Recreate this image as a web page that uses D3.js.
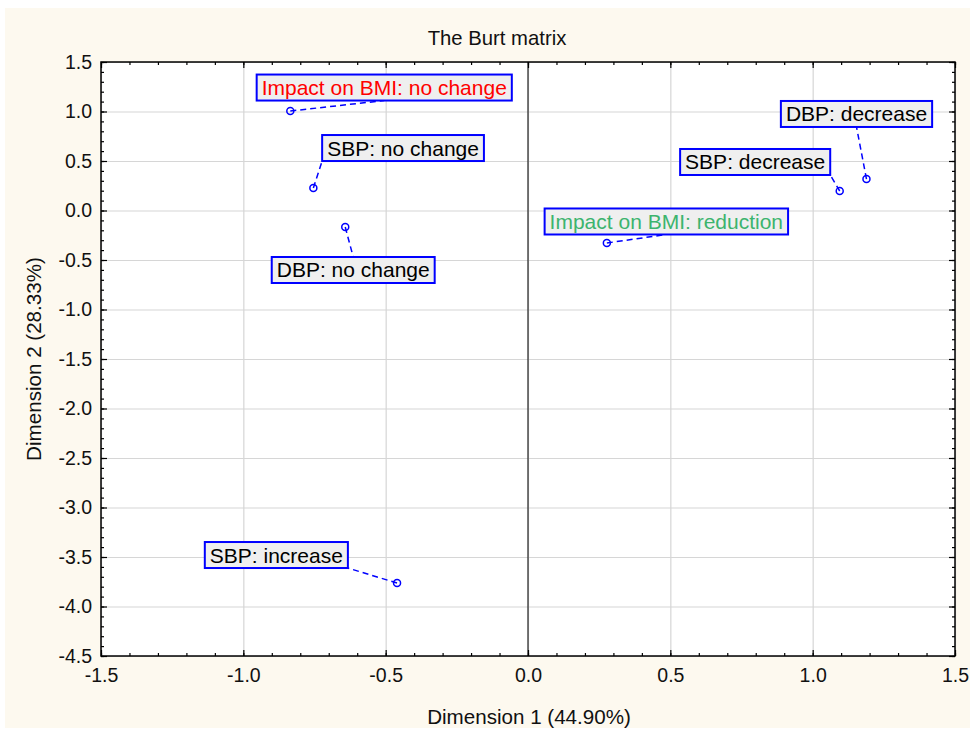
<!DOCTYPE html>
<html>
<head>
<meta charset="utf-8">
<script src="https://cdn.jsdelivr.net/npm/d3@7"></script>
<style>
  body { margin: 0; background: #fff; }
  svg { display: block; font-family: Arial, "Liberation Sans", sans-serif; }
</style>
</head>
<body>
<div id="chart"></div>
<script>
// category points of the Burt matrix (dimension 1 / dimension 2 coordinates)
const categories = [
  'Impact on BMI: no change',
  'SBP: no change',
  'DBP: no change',
  'Impact on BMI: reduction',
  'SBP: decrease',
  'DBP: decrease',
  'SBP: increase',
];
const dim1 = [-0.835, -0.754, -0.642, 0.277, 1.095, 1.189, -0.46];
const dim2 = [1.005, 0.227, -0.167, -0.328, 0.197, 0.318, -3.763];

// where each label box sits (data units) and which side the leader line meets
const labelX = [-0.505, -0.439, -0.614, 0.486, 0.798, 1.154, -0.884];
const labelY = [1.242, 0.631, -0.601, -0.111, 0.49, 0.975, -3.48];
const labelAttach = ['bottom', 'bottom-left', 'top', 'bottom', 'bottom-right', 'bottom', 'bottom-right'];

const xTicks = [-1.5, -1.0, -0.5, 0.0, 0.5, 1.0, 1.5];
const yTicks = [1.5, 1.0, 0.5, 0.0, -0.5, -1.0, -1.5, -2.0, -2.5, -3.0, -3.5, -4.0, -4.5];

const title = 'The Burt matrix';
const xTitle = 'Dimension 1 (44.90%)';
const yTitle = 'Dimension 2 (28.33%)';

const width = 970;
const height = 731;
const plot = { left: 101, right: 955, top: 62, bottom: 656 };

const textColor = (name) => {
  if (name === 'Impact on BMI: no change') return '#ff0000';
  if (name === 'Impact on BMI: reduction') return '#3cb46e';
  return '#000';
};

const points = categories.map((name, i) => ({
  name,
  x: dim1[i],
  y: dim2[i],
  lx: labelX[i],
  ly: labelY[i],
  attach: labelAttach[i],
}));

const svg = d3.select('#chart')
  .append('svg')
  .attr('width', width)
  .attr('height', height);

// cream panel
svg.append('rect')
  .attr('x', 5).attr('y', 8)
  .attr('width', width - 5).attr('height', 720)
  .attr('fill', '#fdf9ef');

const xScale = d3.scaleLinear().domain([-1.5, 1.5]).range([plot.left, plot.right]);
const yScale = d3.scaleLinear().domain([-4.5, 1.5]).range([plot.bottom, plot.top]);

svg.append('rect')
  .attr('x', plot.left).attr('y', plot.top)
  .attr('width', plot.right - plot.left).attr('height', plot.bottom - plot.top)
  .attr('fill', '#fff');

// gridlines
const grid = svg.append('g').attr('class', 'grid');
grid.append('g')
  .attr('transform', `translate(0,${plot.bottom})`)
  .call(d3.axisBottom(xScale).tickValues(xTicks).tickFormat('').tickSize(-(plot.bottom - plot.top)));
grid.append('g')
  .attr('transform', `translate(${plot.left},0)`)
  .call(d3.axisLeft(yScale).tickValues(yTicks).tickFormat('').tickSize(-(plot.right - plot.left)));
grid.selectAll('.domain').remove();
grid.selectAll('line').attr('stroke', '#d6d6d6').attr('stroke-width', 1.2);

// zero line for dimension 1
svg.append('line')
  .attr('x1', xScale(0)).attr('x2', xScale(0))
  .attr('y1', plot.top).attr('y2', plot.bottom)
  .attr('stroke', '#222').attr('stroke-width', 1.2);

// inward ticks on all four sides
const xMinor = d3.range(-15, 16).map((d) => d / 10);
const yMinor = d3.range(-45, 16).map((d) => d / 10);
const tickGroup = svg.append('g').attr('class', 'ticks');
function addTicks(axisFn, scale, values, size, transform) {
  tickGroup.append('g')
    .attr('transform', transform)
    .call(axisFn(scale).tickValues(values).tickFormat('').tickSize(-size));
}
addTicks(d3.axisBottom, xScale, xMinor, 3, `translate(0,${plot.bottom})`);
addTicks(d3.axisBottom, xScale, xTicks, 6, `translate(0,${plot.bottom})`);
addTicks(d3.axisTop, xScale, xMinor, 3, `translate(0,${plot.top})`);
addTicks(d3.axisTop, xScale, xTicks, 6, `translate(0,${plot.top})`);
addTicks(d3.axisLeft, yScale, yMinor, 3, `translate(${plot.left},0)`);
addTicks(d3.axisLeft, yScale, yTicks, 6, `translate(${plot.left},0)`);
addTicks(d3.axisRight, yScale, yMinor, 3, `translate(${plot.right},0)`);
addTicks(d3.axisRight, yScale, yTicks, 6, `translate(${plot.right},0)`);
tickGroup.selectAll('.domain').remove();
tickGroup.selectAll('line').attr('stroke', '#000').attr('stroke-width', 1.2);

// frame
svg.append('rect')
  .attr('x', plot.left).attr('y', plot.top)
  .attr('width', plot.right - plot.left).attr('height', plot.bottom - plot.top)
  .attr('fill', 'none')
  .attr('stroke', '#000')
  .attr('stroke-width', 1.5);

// tick labels
const fmt = (d) => d.toFixed(1);
const xAxis = svg.append('g')
  .attr('transform', `translate(0,${plot.bottom})`)
  .call(d3.axisBottom(xScale).tickValues(xTicks).tickFormat(fmt).tickSize(0).tickPadding(12));
const yAxis = svg.append('g')
  .attr('transform', `translate(${plot.left},0)`)
  .call(d3.axisLeft(yScale).tickValues(yTicks).tickFormat(fmt).tickSize(0).tickPadding(9));
[xAxis, yAxis].forEach((g) => {
  g.select('.domain').remove();
  g.selectAll('text')
    .attr('font-family', 'Arial, "Liberation Sans", sans-serif')
    .attr('font-size', 19.5)
    .attr('fill', '#111');
});

// titles
svg.append('text')
  .attr('x', 497).attr('y', 45)
  .attr('text-anchor', 'middle')
  .attr('font-size', 20.3)
  .attr('fill', '#111')
  .text(title);
svg.append('text')
  .attr('x', 529).attr('y', 724)
  .attr('text-anchor', 'middle')
  .attr('font-size', 20.6)
  .attr('fill', '#111')
  .text(xTitle);
svg.append('text')
  .attr('transform', `translate(41,${(plot.top + plot.bottom) / 2}) rotate(-90)`)
  .attr('text-anchor', 'middle')
  .attr('font-size', 20.6)
  .attr('fill', '#111')
  .text(yTitle);

// labels with leader lines
const labelLayer = svg.append('g').attr('class', 'labels');
const pointLayer = svg.append('g').attr('class', 'points');
const pad = 5;
const boxH = 26;

points.forEach((p) => {
  const g = labelLayer.append('g');
  const cx = xScale(p.lx);
  const cy = yScale(p.ly);
  const rect = g.append('rect');
  const txt = g.append('text')
    .attr('x', cx).attr('y', cy + 7.5)
    .attr('text-anchor', 'middle')
    .attr('font-size', 21)
    .attr('fill', textColor(p.name))
    .text(p.name);
  const w = txt.node().getComputedTextLength() + pad * 2;
  const x0 = cx - w / 2;
  const y0 = cy - boxH / 2;
  rect.attr('x', x0).attr('y', y0)
    .attr('width', w).attr('height', boxH)
    .attr('fill', '#efefef')
    .attr('stroke', '#0000ff')
    .attr('stroke-width', 2);

  let ax = cx;
  let ay = y0 + boxH;
  if (p.attach === 'top') ay = y0;
  if (p.attach === 'bottom-left') ax = x0;
  if (p.attach === 'bottom-right') ax = x0 + w;

  g.insert('line', 'rect')
    .attr('x1', xScale(p.x)).attr('y1', yScale(p.y))
    .attr('x2', ax).attr('y2', ay)
    .attr('stroke', '#0000ff')
    .attr('stroke-width', 1.5)
    .attr('stroke-dasharray', '6,4');

  pointLayer.append('circle')
    .attr('cx', xScale(p.x)).attr('cy', yScale(p.y))
    .attr('r', 3.5)
    .attr('fill', 'none')
    .attr('stroke', '#0000ff')
    .attr('stroke-width', 1.5);
});
</script>
</body>
</html>
